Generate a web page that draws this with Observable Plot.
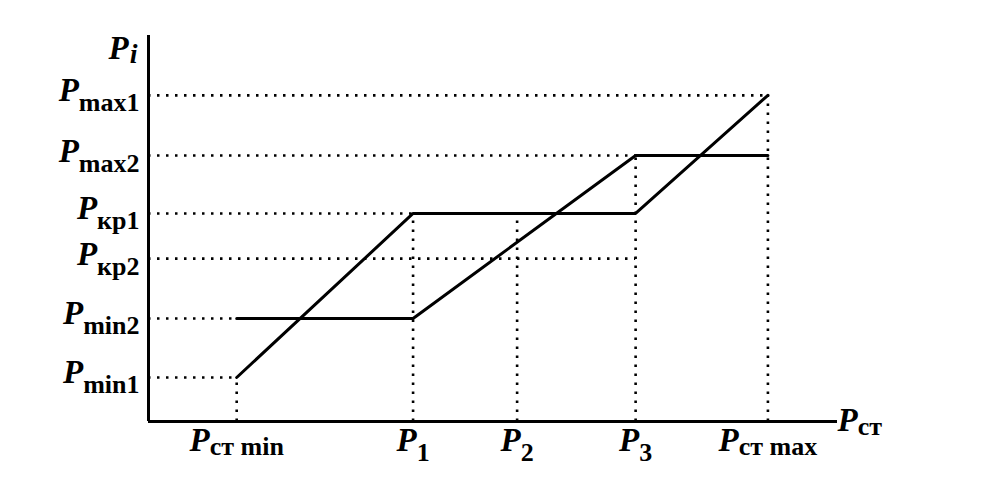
<!DOCTYPE html>
<html><head><meta charset="utf-8">
<script src="https://cdn.jsdelivr.net/npm/d3@7"></script>
<script src="https://cdn.jsdelivr.net/npm/@observablehq/plot@0.6"></script>
<style>html,body{margin:0;padding:0;background:#fff}</style>
</head><body><div id="chart"></div>
<script>
// Tick labels ("main|subscript") and positions (arbitrary units, 0..100)
const xTickLabels = ["P|ст min", "P|1", "P|2", "P|3", "P|ст max"];
const xTickValues = [12.8, 38.4, 53.5, 70.7, 89.9];
const yTickLabels = ["P|min1", "P|min2", "P|кр2", "P|кр1", "P|max2", "P|max1"];
const yTickValues = [11.4, 26.7, 42.2, 53.9, 68.9, 84.5];
// Two characteristics
const curveX = [12.8, 38.4, 70.7, 89.9];
const curve1Y = [11.4, 53.9, 53.9, 84.5];
const curve2Y = [26.7, 26.7, 68.9, 68.9];
// Where each dotted guide stops
const hGuideEnd = [12.8, 12.8, 70.7, 38.4, 70.7, 89.9];
const vGuideEnd = [11.4, 53.9, 53.9, 68.9, 84.5];
// Axis titles
const xAxisLabel = "P|ст";
const yAxisLabel = "P|i";

const hGuides = yTickValues.map((y, i) => ({y, x2: hGuideEnd[i]}));
const vGuides = xTickValues.map((x, i) => ({x, y2: vGuideEnd[i]}));
const curve1 = curveX.map((x, i) => ({x, y: curve1Y[i]}));
const curve2 = curveX.map((x, i) => ({x, y: curve2Y[i]}));
const xTicks = xTickValues.map((x, i) => ({x, label: xTickLabels[i]}));
const yTicks = yTickValues.map((y, i) => ({y, label: yTickLabels[i]}));

const font = {fontFamily: "'Liberation Serif', 'Times New Roman', serif", fontWeight: "bold", fill: "black", lineAnchor: "bottom"};
const dots = {stroke: "black", strokeWidth: 2.6, strokeDasharray: "2.5,6.5"};

const chart = Plot.plot({
  width: 1006, height: 502,
  marginLeft: 148, marginRight: 169, marginTop: 35, marginBottom: 81,
  x: {domain: [0, 100], axis: null},
  y: {domain: [0, 100], axis: null},
  style: {background: "white"},
  marks: [
    Plot.ruleY(hGuides, {y: "y", x1: 0, x2: "x2", ...dots}),
    Plot.ruleX(vGuides, {x: "x", y1: 0, y2: "y2", ...dots}),
    Plot.line(curve1, {x: "x", y: "y", stroke: "black", strokeWidth: 3}),
    Plot.line(curve2, {x: "x", y: "y", stroke: "black", strokeWidth: 3}),
    Plot.ruleX([0], {y1: 0, y2: 100, stroke: "black", strokeWidth: 3}),
    Plot.ruleY([0], {x1: 0, x2: 100, stroke: "black", strokeWidth: 3}),
    Plot.text(yTicks, {x: 0, y: "y", text: "label", textAnchor: "end", dx: -9, dy: 6, ...font}),
    Plot.text(xTicks, {x: "x", y: 0, text: "label", textAnchor: "middle", dy: 29, ...font}),
    Plot.text([xAxisLabel], {x: 100, y: 0, text: d => d, textAnchor: "start", dx: 0, dy: 9, ...font}),
    Plot.text([yAxisLabel], {x: 0, y: 100, text: d => d, textAnchor: "end", dx: -11, dy: 23, ...font})
  ]
});

const ns = "http://www.w3.org/2000/svg";
chart.querySelectorAll("text").forEach(t => {
  const s = t.textContent;
  if (!s.includes("|")) return;
  const [main, sub] = s.split("|");
  t.textContent = "";
  const a = document.createElementNS(ns, "tspan");
  a.setAttribute("font-style", "italic");
  a.setAttribute("font-size", "33");
  a.textContent = main;
  const b = document.createElementNS(ns, "tspan");
  b.setAttribute("font-style", sub === "i" ? "italic" : "normal");
  b.setAttribute("font-size", sub === "i" ? "28" : "26");
  const low = /^(ст|i)/.test(sub) ? 4 : 10;
  b.setAttribute("dy", String(low));
  b.setAttribute("dx", sub === "i" ? "1" : "0");
  b.textContent = sub;
  t.appendChild(a);
  t.appendChild(b);
});
document.getElementById("chart").appendChild(chart);
</script>
</body></html>
